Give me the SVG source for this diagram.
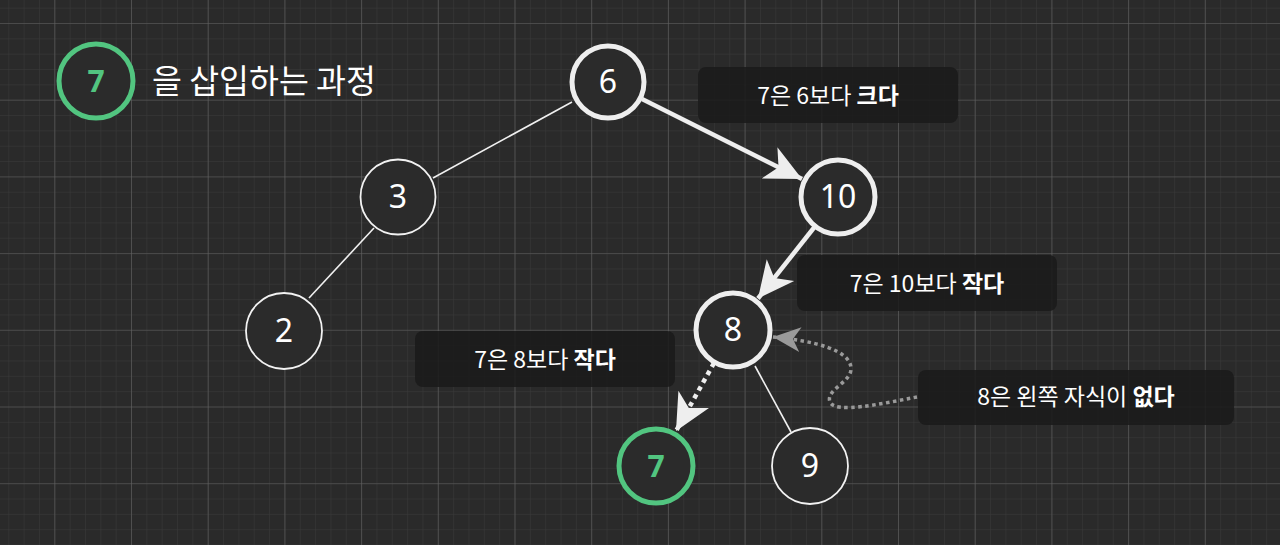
<svg xmlns="http://www.w3.org/2000/svg" width="1280" height="545" viewBox="0 0 1280 545">
<defs>
<pattern id="minor" patternUnits="userSpaceOnUse" x="8.3" y="7.66" width="15.34" height="15.34">
<path d="M0,0 H15.34 M0,0 V15.34" stroke="#3b3b3b" stroke-width="1" fill="none"/>
</pattern>
<pattern id="major" patternUnits="userSpaceOnUse" x="54.3" y="23" width="76.7" height="76.7">
<path d="M0,0 H76.7 M0,0 V76.7" stroke="#626262" stroke-width="1.2" fill="none"/>
</pattern>
<marker id="ah" markerUnits="userSpaceOnUse" markerWidth="40" markerHeight="40" viewBox="-30 -16 32 32" refX="0" refY="0" orient="auto">
<path d="M0,0 L-29,-14 L-21,0 L-29,14 Z" fill="#eeeeee"/>
</marker>
<marker id="ahg" markerUnits="userSpaceOnUse" markerWidth="30" markerHeight="30" viewBox="-22 -12 24 24" refX="0" refY="0" orient="auto">
<path d="M0,0 L-22,-10 L-16,0 L-22,10 Z" fill="#9a9a9a"/>
</marker>
<style>
.node{fill:#2b2b2b}
.thin{stroke:#f2f2f2;stroke-width:1.8}
.thick{stroke:#eeeeee;stroke-width:5}
.green{stroke:#52c580;stroke-width:5}
.num{font-family:"Noto Sans","Noto Sans CJK KR",sans-serif;font-size:32px;fill:#ffffff;text-anchor:middle}
.gnum{font-family:"Noto Sans","Noto Sans CJK KR",sans-serif;font-size:30px;font-weight:bold;fill:#52c580;text-anchor:middle}
.box{fill:#1a1a1a;fill-opacity:0.85}
.lbl{font-family:"Noto Sans CJK KR","Noto Sans",sans-serif;font-size:23px;fill:#ffffff;text-anchor:middle}
.edge{stroke:#f0f0f0;stroke-width:1.6;fill:none}
.arrow{stroke:#eeeeee;stroke-width:4.5;fill:none}
</style>
</defs>
<rect width="1280" height="545" fill="#2a2a2a"/>
<rect width="1280" height="545" fill="url(#minor)"/>
<rect width="1280" height="545" fill="url(#major)"/>

<g id="legend">
<circle cx="96" cy="81" r="37" class="node green"/>
<text x="96" y="92" class="gnum">7</text>
<text x="152" y="93" font-family="Noto Sans CJK KR, sans-serif" font-size="32.5" fill="#ffffff">을 삽입하는 과정</text>
</g>

<g id="connectors">
<line x1="572" y1="102" x2="433" y2="178" class="edge"/>
<line x1="374" y1="228" x2="309" y2="298" class="edge"/>
<line x1="755" y1="366" x2="791" y2="432" class="edge"/>
<line x1="642" y1="99" x2="802" y2="179" class="arrow" marker-end="url(#ah)"/>
<line x1="814.5" y1="227" x2="758" y2="298.5" class="arrow" marker-end="url(#ah)"/>
<line x1="714" y1="363" x2="676" y2="431" class="arrow" stroke-dasharray="4.5 4.5" marker-end="url(#ah)"/>
<path d="M917,397 C880,404 835,414 830,402 C825,390 852,382 851,368 C850,350 815,341 773,337" stroke="#9a9a9a" stroke-width="3.5" fill="none" stroke-dasharray="3.5 3.5" marker-end="url(#ahg)"/>
</g>

<g id="n6"><circle cx="608" cy="82" r="36" class="node thick"/><text x="608" y="93" class="num">6</text></g>
<g id="n3"><circle cx="398" cy="197" r="37.5" class="node thin"/><text x="398" y="208" class="num">3</text></g>
<g id="n10"><circle cx="838" cy="197" r="37" class="node thick"/><text x="838" y="208" class="num">10</text></g>
<g id="n2"><circle cx="284" cy="331" r="38" class="node thin"/><text x="284" y="342" class="num">2</text></g>
<g id="n8"><circle cx="733" cy="330" r="37" class="node thick"/><text x="733" y="341" class="num">8</text></g>
<g id="n7"><circle cx="656" cy="466" r="37" class="node green"/><text x="656" y="477" class="gnum">7</text></g>
<g id="n9"><circle cx="810" cy="466" r="38" class="node thin"/><text x="810" y="477" class="num">9</text></g>

<g id="label1"><rect x="698" y="67" width="260" height="56" rx="8" class="box"/><text x="828" y="104" class="lbl">7은 6보다 <tspan font-weight="bold">크다</tspan></text></g>
<g id="label2"><rect x="797" y="255" width="260" height="56" rx="8" class="box"/><text x="927" y="292" class="lbl">7은 10보다 <tspan font-weight="bold">작다</tspan></text></g>
<g id="label3"><rect x="415" y="331" width="260" height="56" rx="8" class="box"/><text x="545" y="368" class="lbl">7은 8보다 <tspan font-weight="bold">작다</tspan></text></g>
<g id="label4"><rect x="918" y="370" width="316" height="55" rx="8" class="box"/><text x="1076" y="405" class="lbl">8은 왼쪽 자식이 <tspan font-weight="bold">없다</tspan></text></g>
</svg>
